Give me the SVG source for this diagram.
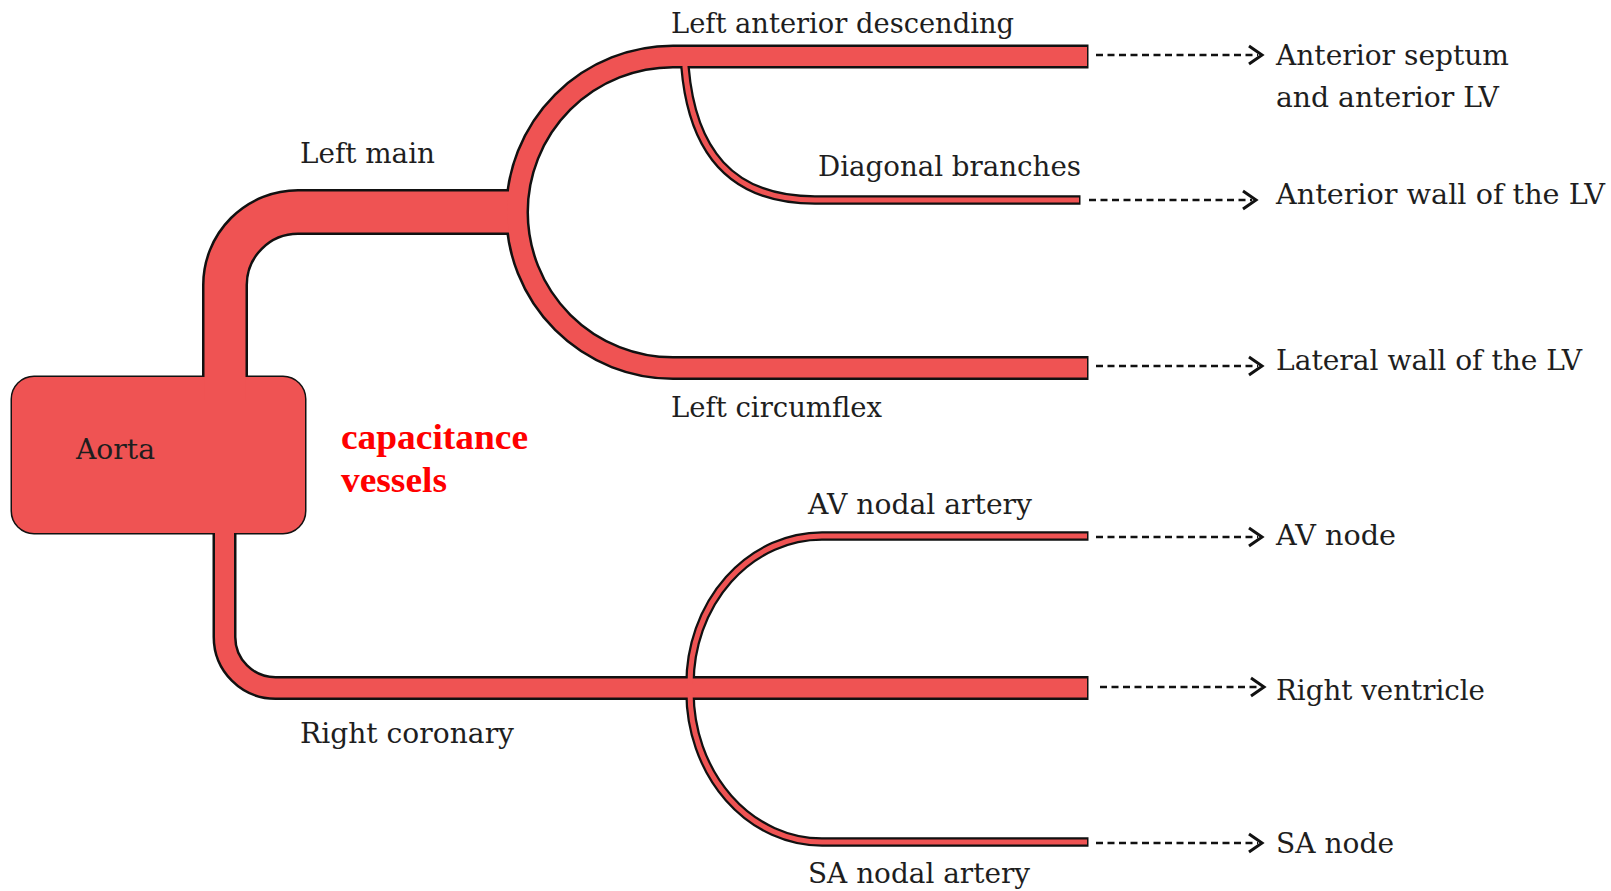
<svg xmlns="http://www.w3.org/2000/svg" width="1611" height="891" viewBox="0 0 1611 891">
<defs>
<style>
.lbl{font-family:"DejaVu Serif","Liberation Serif",serif;font-size:28px;fill:#1e1e1e}
.red{font-family:"Liberation Serif","Times New Roman",serif;font-size:36px;font-weight:bold;fill:#ff0000}
.ol{fill:none;stroke:#111;stroke-linejoin:round}
.fl{fill:none;stroke:#EF5353;stroke-linejoin:round}
.dash{fill:none;stroke:#111;stroke-width:2.5;stroke-dasharray:7 4.5}
.head{fill:none;stroke:#111;stroke-width:3;stroke-linejoin:miter}
</style>
</defs>
<rect width="1611" height="891" fill="#ffffff"/>

<g id="vessels-outline">
<rect x="12" y="377" width="293" height="156" rx="22" ry="22" fill="none" stroke="#111" stroke-width="3"/>
<path class="ol" stroke-width="46" d="M225 400 V285 A73 73 0 0 1 298 212 H522"/>
<path class="ol" stroke-width="24" d="M1088.5 56.5 H673 A156 155.75 0 0 0 673 368 H1088.5"/>
<path class="ol" stroke-width="9.5" d="M685 60 V67 C692 150 730 200 815 200 H1080.5"/>
<path class="ol" stroke-width="24" d="M224.5 520 V637 A51 51 0 0 0 275.5 688 H1088.5"/>
<path class="ol" stroke-width="9.5" d="M690 684 A132 148 0 0 1 822 536 H1088.5"/>
<path class="ol" stroke-width="9.5" d="M690 692 A132 150 0 0 0 822 842 H1088.5"/>
</g>
<g id="aorta">
<rect x="12" y="377" width="293" height="156" rx="22" ry="22" fill="#EF5353"/>
<text class="lbl" x="76" y="459" textLength="79" lengthAdjust="spacingAndGlyphs">Aorta</text>
</g>
<g id="vessels-fill">
<path class="fl" stroke-width="41" d="M225 400 V285 A73 73 0 0 1 298 212 H522"/>
<path class="fl" stroke-width="19" d="M1087 56.5 H673 A156 155.75 0 0 0 673 368 H1087"/>
<path class="fl" stroke-width="5" d="M685 60 V67 C692 150 730 200 815 200 H1079"/>
<path class="fl" stroke-width="19" d="M224.5 520 V637 A51 51 0 0 0 275.5 688 H1087"/>
<path class="fl" stroke-width="5" d="M690 684 A132 148 0 0 1 822 536 H1087"/>
<path class="fl" stroke-width="5" d="M690 692 A132 150 0 0 0 822 842 H1087"/>
</g>

<g id="left-main"><text class="lbl" x="300" y="163" textLength="135" lengthAdjust="spacingAndGlyphs">Left main</text></g>
<g id="lad"><text class="lbl" x="671" y="33" textLength="343" lengthAdjust="spacingAndGlyphs">Left anterior descending</text></g>
<g id="diagonal"><text class="lbl" x="818" y="176" textLength="263" lengthAdjust="spacingAndGlyphs">Diagonal branches</text></g>
<g id="lcx"><text class="lbl" x="671" y="417" textLength="211" lengthAdjust="spacingAndGlyphs">Left circumflex</text></g>
<g id="av-nodal"><text class="lbl" x="808" y="514" textLength="224" lengthAdjust="spacingAndGlyphs">AV nodal artery</text></g>
<g id="rca"><text class="lbl" x="300" y="743" textLength="214" lengthAdjust="spacingAndGlyphs">Right coronary</text></g>
<g id="sa-nodal"><text class="lbl" x="808" y="883" textLength="222" lengthAdjust="spacingAndGlyphs">SA nodal artery</text></g>
<g id="capacitance">
<text class="red" x="341" y="449" textLength="187" lengthAdjust="spacingAndGlyphs">capacitance</text>
<text class="red" x="341" y="492" textLength="106" lengthAdjust="spacingAndGlyphs">vessels</text>
</g>

<g id="t-anterior-septum">
<text class="lbl" x="1276" y="65" textLength="233" lengthAdjust="spacingAndGlyphs">Anterior septum</text>
<text class="lbl" x="1276" y="107" textLength="223" lengthAdjust="spacingAndGlyphs">and anterior LV</text>
</g>
<g id="t-anterior-wall"><text class="lbl" x="1276" y="204" textLength="329" lengthAdjust="spacingAndGlyphs">Anterior wall of the LV</text></g>
<g id="t-lateral-wall"><text class="lbl" x="1276" y="370" textLength="306" lengthAdjust="spacingAndGlyphs">Lateral wall of the LV</text></g>
<g id="t-av-node"><text class="lbl" x="1276" y="545" textLength="120" lengthAdjust="spacingAndGlyphs">AV node</text></g>
<g id="t-rv"><text class="lbl" x="1276" y="700" textLength="209" lengthAdjust="spacingAndGlyphs">Right ventricle</text></g>
<g id="t-sa-node"><text class="lbl" x="1276" y="853" textLength="118" lengthAdjust="spacingAndGlyphs">SA node</text></g>

<g id="connectors">
<path class="dash" d="M1096 55 H1258"/><path class="head" d="M1249 46 L1262 55 L1249 64"/>
<path class="dash" d="M1089 200 H1252"/><path class="head" d="M1243 191 L1256 200 L1243 209"/>
<path class="dash" d="M1096 366 H1258"/><path class="head" d="M1249 357 L1262 366 L1249 375"/>
<path class="dash" d="M1096 537 H1258"/><path class="head" d="M1249 528 L1262 537 L1249 546"/>
<path class="dash" d="M1100 687 H1260"/><path class="head" d="M1251 678 L1264 687 L1251 696"/>
<path class="dash" d="M1096 843 H1258"/><path class="head" d="M1249 834 L1262 843 L1249 852"/>
</g>
</svg>
